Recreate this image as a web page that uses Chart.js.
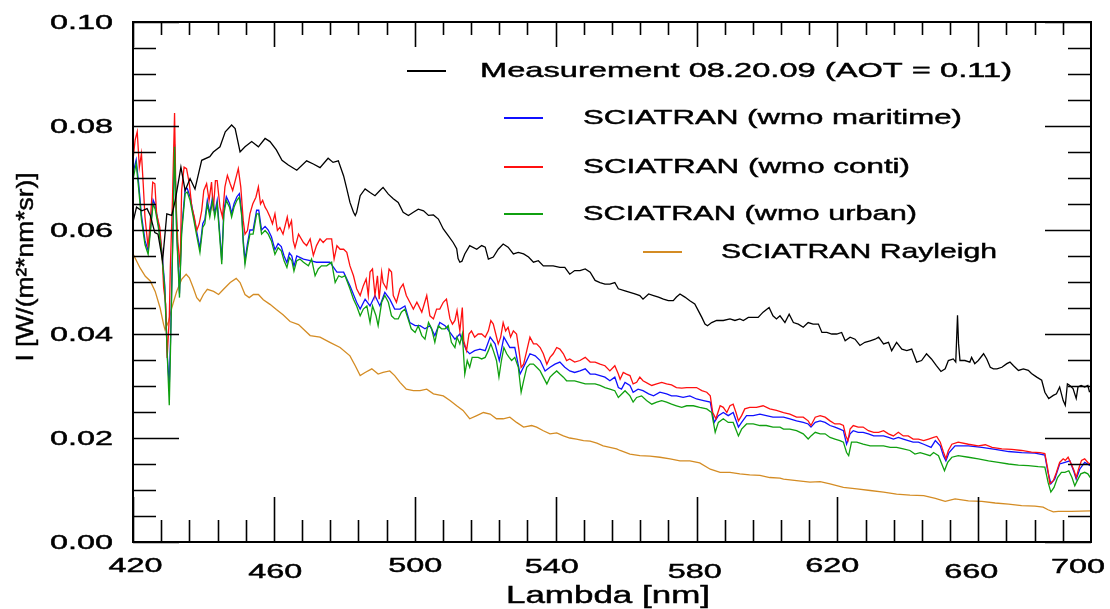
<!DOCTYPE html>
<html>
<head>
<meta charset="utf-8">
<title>Measurement vs SCIATRAN</title>
<script src="https://cdn.jsdelivr.net/npm/chart.js@4.4.1/dist/chart.umd.min.js"></script>
<style>
  html, body { margin: 0; padding: 0; background: #fff; }
  #wrap { width: 1110px; height: 609px; }
</style>
</head>
<body>
<div id="wrap"><canvas id="chart" width="1110" height="609"></canvas></div>
<script>
/* ---------- data (lambda in nm, I in W/(m2*nm*sr)) ---------- */
const measLambda = [420.1,421.0,422.5,424.0,424.9,426.2,427.1,428.4,429.6,431.0,432.0,433.6,434.8,436.2,437.6,438.5,439.5,441.8,442.8,444.7,446.2,448.0,449.0,450.4,451.8,453.7,455.6,457.5,458.9,460.7,462.3,464.1,466.5,469.3,471.2,473.1,475.4,476.8,478.3,479.8,480.7,481.6,482.6,483.1,483.5,484.5,485.9,487.3,488.7,490.1,491.0,492.5,493.9,495.3,496.7,498.2,499.6,501.0,502.5,503.9,505.3,506.7,508.1,509.5,510.9,511.9,512.3,512.8,513.4,514.2,515.6,517.6,519.0,520.0,520.9,522.3,523.7,525.1,526.5,528.0,529.4,530.9,532.3,533.7,535.1,536.5,537.9,539.3,541.2,542.6,544.0,545.4,546.9,548.4,549.8,551.2,552.6,554.0,555.4,556.8,557.8,559.7,561.1,562.5,563.9,564.8,566.4,567.8,569.2,570.6,572.0,573.4,574.3,575.3,576.7,578.1,579.5,580.5,581.5,582.4,583.1,584.3,585.7,587.6,589.5,590.9,592.3,593.3,594.7,596.1,597.5,598.9,600.6,601.7,602.7,603.7,605.1,606.3,607.5,608.9,610.3,611.7,613.1,614.6,615.6,617.0,618.4,619.8,621.2,622.2,623.6,625.0,626.4,627.8,629.3,630.7,631.7,633.1,634.5,635.4,636.8,638.3,639.7,641.1,642.5,643.9,645.3,646.7,648.1,649.4,650.6,651.5,652.9,653.6,654.1,654.4,654.8,656.2,657.6,658.1,659.0,660.0,661.5,662.4,663.4,664.3,665.3,666.7,668.1,669.0,670.0,671.4,672.8,674.2,675.1,676.6,678.0,678.9,680.0,681.3,682.2,683.1,684.1,684.7,685.3,686.0,686.9,687.8,688.3,689.2,690.2,691.1,691.6];
const measI = [0.0618,0.0644,0.0637,0.0641,0.0628,0.0595,0.0592,0.0541,0.0631,0.0628,0.0657,0.0721,0.0676,0.0699,0.0679,0.0705,0.0734,0.0741,0.0750,0.0760,0.0789,0.0802,0.0795,0.0750,0.0760,0.0770,0.0760,0.0776,0.0770,0.0754,0.0734,0.0725,0.0715,0.0733,0.0727,0.0720,0.0738,0.0730,0.0733,0.0704,0.0679,0.0653,0.0634,0.0628,0.0634,0.0666,0.0679,0.0672,0.0666,0.0676,0.0682,0.0669,0.0660,0.0653,0.0634,0.0628,0.0634,0.0640,0.0637,0.0628,0.0629,0.0621,0.0602,0.0589,0.0576,0.0564,0.0545,0.0538,0.0540,0.0554,0.0570,0.0563,0.0570,0.0567,0.0544,0.0548,0.0563,0.0573,0.0567,0.0554,0.0557,0.0554,0.0548,0.0538,0.0541,0.0531,0.0531,0.0531,0.0528,0.0528,0.0515,0.0522,0.0522,0.0525,0.0519,0.0503,0.0499,0.0496,0.0496,0.0499,0.0487,0.0483,0.0480,0.0477,0.0474,0.0467,0.0477,0.0474,0.0471,0.0467,0.0464,0.0464,0.0471,0.0477,0.0471,0.0464,0.0458,0.0445,0.0432,0.0419,0.0416,0.0422,0.0426,0.0426,0.0429,0.0426,0.0429,0.0426,0.0432,0.0432,0.0432,0.0442,0.0451,0.0435,0.0429,0.0435,0.0422,0.0438,0.0422,0.0419,0.0413,0.0422,0.0419,0.0419,0.0403,0.0403,0.0400,0.0400,0.0403,0.0387,0.0394,0.0390,0.0378,0.0384,0.0387,0.0390,0.0394,0.0381,0.0384,0.0368,0.0384,0.0371,0.0368,0.0371,0.0346,0.0349,0.0362,0.0352,0.0339,0.0328,0.0333,0.0349,0.0352,0.0346,0.0436,0.0381,0.0349,0.0349,0.0346,0.0355,0.0343,0.0349,0.0362,0.0352,0.0336,0.0333,0.0333,0.0336,0.0343,0.0346,0.0339,0.0330,0.0333,0.0330,0.0324,0.0317,0.0311,0.0288,0.0276,0.0282,0.0285,0.0298,0.0272,0.0263,0.0304,0.0301,0.0295,0.0276,0.0298,0.0301,0.0298,0.0301,0.0288];

const mariLambda = [420.1,420.9,421.6,422.4,423.4,424.3,425.0,425.7,426.3,427.2,428.1,429.0,429.8,430.3,430.7,431.3,431.8,432.4,433.2,433.8,434.8,435.4,436.2,437.1,438.0,439.0,439.8,440.4,441.1,441.8,442.6,443.2,443.9,444.7,445.2,445.8,446.5,447.4,448.0,448.7,449.5,450.2,450.9,451.3,451.8,452.5,453.2,454.1,455.1,455.7,456.5,457.5,458.4,459.3,460.3,461.2,462.1,462.9,463.7,464.4,465.1,465.7,466.5,468.4,470.3,472.1,474.0,475.9,477.9,479.8,481.6,483.5,484.5,485.9,487.3,488.7,490.1,491.5,492.9,494.3,495.8,497.2,498.6,500.1,501.5,502.9,504.3,505.7,507.1,508.6,510.0,511.4,512.8,513.9,514.7,515.6,517.0,518.5,520.0,521.4,522.8,524.0,525.3,527.0,528.4,529.9,531.3,532.7,534.2,535.6,537.0,538.4,539.8,541.2,542.6,544.0,545.4,546.9,548.4,549.8,551.2,552.6,554.0,555.4,556.8,557.8,558.7,559.7,561.1,562.0,563.4,564.8,566.4,567.8,569.6,571.5,572.9,574.3,576.2,578.1,580.0,582.0,583.9,585.0,586.2,587.6,589.0,590.4,591.9,592.8,594.2,596.1,598.0,599.8,601.7,603.7,604.7,606.5,608.4,610.3,611.7,612.5,613.7,615.1,616.5,617.9,619.3,620.7,621.7,622.6,623.6,624.5,625.9,627.3,628.8,630.3,631.7,633.1,634.5,635.9,637.3,638.7,640.1,641.5,643.0,644.5,646.6,647.8,649.2,650.1,650.8,651.7,653.4,657.2,661.0,664.8,668.6,672.3,676.1,678.9,679.7,680.6,681.7,683.1,684.6,686.0,687.2,687.8,688.8,690.2,691.8];
const mariI = [0.0712,0.0735,0.0690,0.0628,0.0580,0.0560,0.0608,0.0658,0.0648,0.0612,0.0566,0.0495,0.0352,0.0300,0.0400,0.0590,0.0765,0.0600,0.0478,0.0600,0.0678,0.0680,0.0664,0.0632,0.0600,0.0565,0.0612,0.0620,0.0657,0.0632,0.0664,0.0632,0.0657,0.0587,0.0542,0.0638,0.0664,0.0651,0.0632,0.0651,0.0664,0.0670,0.0632,0.0581,0.0542,0.0574,0.0600,0.0600,0.0638,0.0638,0.0600,0.0607,0.0600,0.0587,0.0562,0.0574,0.0568,0.0550,0.0537,0.0556,0.0550,0.0530,0.0550,0.0544,0.0541,0.0538,0.0538,0.0538,0.0519,0.0519,0.0493,0.0461,0.0448,0.0467,0.0454,0.0474,0.0454,0.0480,0.0467,0.0448,0.0448,0.0454,0.0422,0.0416,0.0416,0.0410,0.0416,0.0397,0.0422,0.0416,0.0403,0.0390,0.0400,0.0381,0.0368,0.0362,0.0368,0.0371,0.0368,0.0394,0.0381,0.0349,0.0394,0.0374,0.0374,0.0323,0.0342,0.0362,0.0358,0.0349,0.0329,0.0336,0.0342,0.0346,0.0336,0.0329,0.0326,0.0329,0.0333,0.0323,0.0323,0.0320,0.0317,0.0310,0.0317,0.0297,0.0294,0.0307,0.0301,0.0288,0.0294,0.0291,0.0285,0.0281,0.0288,0.0285,0.0281,0.0281,0.0278,0.0281,0.0275,0.0272,0.0269,0.0230,0.0243,0.0249,0.0243,0.0249,0.0221,0.0230,0.0243,0.0243,0.0246,0.0243,0.0240,0.0240,0.0240,0.0237,0.0233,0.0230,0.0227,0.0221,0.0230,0.0233,0.0230,0.0224,0.0221,0.0217,0.0214,0.0188,0.0208,0.0214,0.0211,0.0211,0.0208,0.0204,0.0204,0.0204,0.0201,0.0198,0.0201,0.0198,0.0195,0.0192,0.0192,0.0188,0.0182,0.0195,0.0185,0.0166,0.0156,0.0172,0.0185,0.0185,0.0182,0.0178,0.0174,0.0172,0.0171,0.0167,0.0137,0.0112,0.0121,0.0150,0.0153,0.0156,0.0134,0.0121,0.0140,0.0153,0.0147];

const contiLambda = [420.1,420.6,421.2,421.8,422.4,422.9,423.4,424.3,425.0,425.6,426.2,426.7,427.6,428.3,428.7,429.3,429.7,430.3,430.6,431.2,431.8,432.2,432.7,433.4,433.8,434.5,435.2,436.0,436.7,437.4,438.1,438.8,439.5,440.1,440.9,441.6,442.3,442.8,443.4,443.9,444.7,445.4,446.1,446.8,447.6,448.3,449.3,449.9,450.6,451.3,451.8,452.5,453.2,454.0,454.9,455.6,456.2,456.8,457.5,458.1,458.9,459.6,460.3,461.0,461.7,462.6,463.8,464.3,465.0,465.5,466.0,467.0,468.4,469.3,470.3,471.2,472.1,473.1,474.0,475.0,476.4,477.1,477.9,478.8,479.8,480.7,481.6,482.6,483.5,484.5,485.4,486.2,486.8,487.3,488.0,488.7,489.4,489.9,490.6,491.0,492.0,492.7,493.4,493.9,494.8,495.8,496.7,497.6,498.6,499.6,500.6,502.0,503.4,504.3,505.3,506.2,507.1,508.1,509.0,510.0,510.7,511.4,512.0,512.8,513.5,513.9,514.7,515.4,516.1,517.0,518.0,519.0,520.0,520.9,521.6,522.3,523.0,523.7,524.4,525.1,525.8,526.5,527.2,528.0,528.9,529.6,530.2,530.9,531.8,532.7,533.7,534.6,535.6,536.5,537.5,538.4,539.3,540.3,541.2,542.2,543.1,544.0,545.4,546.9,548.4,549.8,551.2,552.6,554.0,555.4,556.8,557.8,558.3,559.2,560.1,561.1,562.0,563.0,563.9,564.8,566.4,567.3,568.7,570.1,571.5,572.9,574.3,575.8,577.2,578.6,580.0,581.5,582.9,583.9,584.6,585.5,586.7,587.6,588.6,589.5,590.4,591.2,591.9,592.8,593.7,595.1,597.0,598.9,600.8,602.7,604.7,606.5,608.4,610.3,611.7,612.5,613.7,615.1,616.5,617.9,619.3,620.7,621.7,622.4,623.0,623.6,624.5,625.9,627.3,628.8,630.3,631.7,633.1,634.5,635.9,637.3,638.7,640.1,641.5,643.0,644.5,645.9,647.3,648.2,649.2,650.1,650.8,651.5,652.5,654.3,657.2,660.0,662.0,663.9,666.7,669.5,672.3,675.1,677.5,678.9,679.7,680.3,681.3,682.2,683.1,684.1,684.7,685.5,686.4,687.2,687.8,688.5,689.3,690.2,691.1,691.8];
const contiI = [0.0741,0.0773,0.0789,0.0721,0.0747,0.0689,0.0625,0.0566,0.0625,0.0692,0.0689,0.0631,0.0605,0.0547,0.0489,0.0457,0.0354,0.0431,0.0528,0.0657,0.0825,0.0657,0.0579,0.0528,0.0676,0.0721,0.0718,0.0689,0.0644,0.0625,0.0599,0.0612,0.0637,0.0676,0.0689,0.0657,0.0692,0.0637,0.0695,0.0695,0.0644,0.0625,0.0683,0.0705,0.0689,0.0676,0.0702,0.0718,0.0683,0.0618,0.0592,0.0599,0.0631,0.0650,0.0663,0.0683,0.0650,0.0657,0.0644,0.0637,0.0625,0.0612,0.0631,0.0599,0.0605,0.0592,0.0625,0.0605,0.0618,0.0579,0.0566,0.0592,0.0576,0.0570,0.0583,0.0551,0.0570,0.0583,0.0576,0.0583,0.0583,0.0544,0.0570,0.0563,0.0563,0.0557,0.0531,0.0512,0.0487,0.0474,0.0493,0.0506,0.0474,0.0519,0.0525,0.0474,0.0512,0.0467,0.0519,0.0499,0.0487,0.0525,0.0519,0.0474,0.0461,0.0487,0.0496,0.0474,0.0461,0.0448,0.0461,0.0442,0.0474,0.0435,0.0429,0.0448,0.0448,0.0461,0.0467,0.0429,0.0419,0.0426,0.0445,0.0406,0.0451,0.0387,0.0368,0.0400,0.0406,0.0394,0.0400,0.0400,0.0394,0.0406,0.0426,0.0419,0.0400,0.0381,0.0394,0.0422,0.0406,0.0413,0.0394,0.0406,0.0400,0.0368,0.0336,0.0342,0.0368,0.0394,0.0381,0.0381,0.0374,0.0362,0.0342,0.0355,0.0362,0.0374,0.0371,0.0362,0.0349,0.0352,0.0346,0.0349,0.0355,0.0346,0.0346,0.0342,0.0339,0.0329,0.0339,0.0323,0.0313,0.0326,0.0323,0.0320,0.0304,0.0307,0.0317,0.0310,0.0304,0.0301,0.0304,0.0307,0.0304,0.0302,0.0297,0.0296,0.0297,0.0297,0.0297,0.0291,0.0288,0.0281,0.0249,0.0237,0.0262,0.0259,0.0249,0.0262,0.0265,0.0249,0.0233,0.0243,0.0256,0.0259,0.0259,0.0262,0.0256,0.0253,0.0249,0.0246,0.0240,0.0240,0.0233,0.0224,0.0240,0.0243,0.0240,0.0233,0.0227,0.0227,0.0224,0.0204,0.0195,0.0217,0.0224,0.0221,0.0221,0.0214,0.0211,0.0211,0.0214,0.0208,0.0204,0.0211,0.0204,0.0204,0.0198,0.0198,0.0195,0.0198,0.0201,0.0203,0.0192,0.0173,0.0160,0.0176,0.0188,0.0192,0.0188,0.0185,0.0187,0.0182,0.0179,0.0178,0.0176,0.0173,0.0172,0.0170,0.0141,0.0112,0.0118,0.0134,0.0153,0.0160,0.0157,0.0163,0.0150,0.0137,0.0124,0.0141,0.0157,0.0160,0.0153,0.0150];

const urbanLambda = [420.1,420.9,421.6,422.4,423.4,424.3,425.0,425.7,426.3,427.2,428.1,429.0,429.8,430.3,430.7,431.3,431.8,432.4,433.2,433.8,434.8,435.4,436.2,437.1,438.0,439.0,439.8,440.4,441.1,441.8,442.6,443.2,443.9,444.7,445.2,445.8,446.5,447.4,448.0,448.7,449.5,450.2,450.9,451.3,451.8,452.5,453.2,454.1,455.1,455.7,456.5,457.5,458.4,459.3,460.3,461.2,462.1,462.9,463.7,464.4,465.1,465.7,466.5,467.4,468.4,469.8,470.7,471.7,472.6,473.5,475.0,476.4,477.4,478.4,479.3,480.2,481.6,482.6,483.5,484.5,485.4,486.4,487.3,488.0,489.0,489.6,490.6,491.5,492.5,493.4,494.3,495.3,496.2,497.2,498.1,499.0,500.1,501.0,502.0,502.9,503.9,504.8,505.7,506.7,507.6,508.6,509.5,510.4,511.4,512.0,512.8,513.5,514.2,514.9,515.6,516.3,517.0,518.0,519.0,520.0,520.9,521.6,522.3,523.2,523.9,524.6,525.3,526.1,526.8,527.5,528.4,529.4,530.2,530.9,531.8,532.7,533.7,534.6,535.6,536.5,537.5,538.4,539.3,540.3,541.2,542.2,543.1,544.0,545.4,546.9,548.4,549.8,551.2,552.6,554.0,555.4,556.8,557.8,559.7,561.1,562.0,563.0,564.4,565.8,567.3,568.7,570.1,571.5,572.9,574.3,575.8,577.2,579.1,580.9,582.9,584.3,585.3,586.2,587.6,589.0,590.4,591.9,592.8,594.2,596.1,598.0,599.8,601.7,603.7,604.7,606.5,608.4,610.3,611.7,612.5,613.7,615.1,616.5,617.9,619.3,620.7,621.7,622.6,623.2,624.0,625.5,627.3,629.3,631.2,633.1,635.0,636.8,638.7,640.6,642.0,643.5,644.9,646.3,647.3,648.7,649.8,650.4,651.3,652.5,654.3,657.2,660.0,662.9,665.7,668.6,671.4,674.2,677.0,678.9,679.8,680.6,681.5,682.5,683.6,684.6,685.7,686.6,687.4,688.1,689.1,690.2,691.1,691.8];
const urbanI = [0.0700,0.0728,0.0680,0.0620,0.0572,0.0553,0.0600,0.0650,0.0640,0.0605,0.0559,0.0489,0.0347,0.0263,0.0386,0.0579,0.0760,0.0592,0.0470,0.0592,0.0670,0.0673,0.0657,0.0625,0.0592,0.0557,0.0605,0.0612,0.0650,0.0625,0.0657,0.0625,0.0650,0.0579,0.0534,0.0631,0.0657,0.0644,0.0625,0.0644,0.0657,0.0663,0.0625,0.0573,0.0534,0.0566,0.0592,0.0592,0.0631,0.0631,0.0592,0.0599,0.0592,0.0579,0.0553,0.0566,0.0560,0.0541,0.0528,0.0547,0.0541,0.0521,0.0541,0.0544,0.0538,0.0531,0.0544,0.0512,0.0525,0.0531,0.0531,0.0538,0.0499,0.0512,0.0509,0.0512,0.0487,0.0467,0.0454,0.0435,0.0448,0.0454,0.0422,0.0454,0.0435,0.0416,0.0461,0.0474,0.0461,0.0435,0.0429,0.0429,0.0442,0.0448,0.0429,0.0410,0.0403,0.0416,0.0397,0.0390,0.0422,0.0410,0.0384,0.0416,0.0410,0.0410,0.0416,0.0384,0.0374,0.0394,0.0381,0.0400,0.0323,0.0349,0.0336,0.0355,0.0355,0.0355,0.0352,0.0355,0.0368,0.0381,0.0368,0.0349,0.0317,0.0349,0.0374,0.0362,0.0355,0.0349,0.0355,0.0336,0.0288,0.0310,0.0336,0.0342,0.0342,0.0336,0.0329,0.0317,0.0304,0.0317,0.0323,0.0329,0.0323,0.0317,0.0310,0.0310,0.0310,0.0307,0.0304,0.0304,0.0304,0.0301,0.0297,0.0294,0.0291,0.0278,0.0291,0.0281,0.0269,0.0278,0.0281,0.0272,0.0265,0.0269,0.0272,0.0269,0.0265,0.0262,0.0259,0.0262,0.0262,0.0259,0.0256,0.0249,0.0211,0.0230,0.0237,0.0230,0.0230,0.0204,0.0217,0.0227,0.0227,0.0224,0.0224,0.0221,0.0221,0.0217,0.0217,0.0214,0.0208,0.0198,0.0204,0.0211,0.0208,0.0208,0.0201,0.0198,0.0195,0.0192,0.0172,0.0166,0.0192,0.0192,0.0188,0.0185,0.0185,0.0185,0.0182,0.0182,0.0179,0.0176,0.0169,0.0172,0.0169,0.0166,0.0172,0.0166,0.0147,0.0137,0.0153,0.0163,0.0166,0.0163,0.0160,0.0156,0.0153,0.0150,0.0148,0.0147,0.0145,0.0144,0.0115,0.0096,0.0105,0.0124,0.0134,0.0134,0.0137,0.0124,0.0108,0.0118,0.0131,0.0134,0.0131,0.0124];

const rayLambda = [420.1,422.0,423.5,424.9,426.3,427.7,428.7,429.1,430.1,431.0,432.4,433.8,435.1,436.0,437.1,438.1,439.0,440.0,441.1,442.9,444.3,445.7,447.6,449.3,450.4,451.8,453.0,454.2,455.6,457.0,458.9,460.7,462.6,464.6,467.0,470.3,473.1,475.9,478.8,481.6,483.1,484.5,485.9,487.8,489.6,491.0,492.9,494.3,495.8,497.6,499.6,501.5,503.4,505.3,508.1,510.0,511.9,513.7,515.6,517.6,519.5,521.4,523.2,525.1,527.0,528.9,530.9,533.2,534.6,536.5,538.4,540.3,542.2,544.0,545.9,547.9,549.8,551.7,553.5,555.4,557.3,558.3,561.1,563.9,566.8,569.6,572.5,575.3,578.1,580.9,583.9,586.7,589.5,592.3,595.1,598.0,600.8,603.7,604.7,608.4,612.2,615.1,617.9,621.7,625.5,629.3,633.1,636.8,640.6,644.5,647.8,650.6,653.4,657.2,661.0,664.8,668.6,672.3,676.1,678.4,679.8,681.3,682.7,686.4,691.8];
const rayI = [0.0553,0.0527,0.0511,0.0502,0.0482,0.0450,0.0418,0.0408,0.0424,0.0450,0.0482,0.0505,0.0515,0.0508,0.0489,0.0470,0.0463,0.0476,0.0486,0.0482,0.0476,0.0486,0.0499,0.0507,0.0499,0.0476,0.0470,0.0476,0.0476,0.0466,0.0457,0.0447,0.0437,0.0424,0.0418,0.0397,0.0394,0.0384,0.0374,0.0358,0.0339,0.0320,0.0326,0.0333,0.0323,0.0326,0.0329,0.0320,0.0307,0.0294,0.0291,0.0291,0.0294,0.0285,0.0281,0.0272,0.0262,0.0253,0.0237,0.0243,0.0249,0.0246,0.0237,0.0237,0.0240,0.0230,0.0221,0.0224,0.0221,0.0214,0.0208,0.0210,0.0204,0.0200,0.0198,0.0195,0.0194,0.0190,0.0185,0.0182,0.0179,0.0176,0.0169,0.0166,0.0165,0.0163,0.0160,0.0156,0.0156,0.0152,0.0140,0.0134,0.0134,0.0131,0.0129,0.0128,0.0124,0.0123,0.0121,0.0118,0.0115,0.0116,0.0112,0.0105,0.0102,0.0099,0.0096,0.0092,0.0090,0.0089,0.0084,0.0078,0.0083,0.0079,0.0078,0.0075,0.0073,0.0070,0.0069,0.0067,0.0062,0.0058,0.0059,0.0059,0.0060];

/* ---------- axis ticks ---------- */
const xTickValues = [420, 460, 500, 540, 580, 620, 660, 692];
const xTickLabels = ['420', '460', '500', '540', '580', '620', '660', '700'];
const yTickValues = [0, 0.02, 0.04, 0.06, 0.08, 0.10];
const yTickLabels = ['0.00', '0.02', '0.04', '0.06', '0.08', '0.10'];

// the scanned labels sit a bit off their ticks, keep that look
const xLabelDx = [2.5, 1.3, 0.6, -3.9, -1.8, -5.1, -7, -13];
const xLabelY = [566, 572, 566, 567, 572, 566, 572, 567];

const FONT = "'Liberation Sans', Arial, Helvetica, sans-serif";

const toPoints = (xs, ys) => xs.map((x, i) => ({ x: x, y: ys[i] }));

// text in the original is drawn wide; stretch along the text direction.
// sx > 0 is a plain factor, fitW fits the text to a given length instead
function wideText(ctx, text, x, y, size, sx, align, rot, fitW) {
    ctx.save();
    ctx.translate(x, y);
    if (rot) ctx.rotate(rot);
    ctx.font = size + 'px ' + FONT;
    if (fitW) sx = fitW / ctx.measureText(text).width;
    ctx.scale(sx, 1);
    ctx.textAlign = align;
    ctx.textBaseline = 'middle';
    ctx.fillStyle = '#000';
    ctx.strokeStyle = '#000';
    ctx.lineWidth = 0.45;
    ctx.fillText(text, 0, 0);
    ctx.strokeText(text, 0, 0);
    ctx.restore();
}

/* ---------- frame, inward ticks, labels, legend ---------- */
const idlAxes = {
    id: 'idlAxes',
    afterDatasetsDraw(chart) {
        const ctx = chart.ctx;
        const a = chart.chartArea;
        const xs = chart.scales.x;
        const ys = chart.scales.y;

        ctx.save();
        ctx.strokeStyle = '#000';
        ctx.lineWidth = 1.6;
        ctx.beginPath();
        // y: minor every 0.005, major every 0.02, on both sides
        for (let i = 0; i <= 20; i++) {
            const py = Math.round(ys.getPixelForValue(i * 0.005)) + 0.5;
            const len = i % 4 === 0 ? 46 : 23;
            ctx.moveTo(a.left, py); ctx.lineTo(a.left + len, py);
            ctx.moveTo(a.right, py); ctx.lineTo(a.right - len, py);
        }
        // x: minor every 8 nm, major every 40 nm
        for (let nm = 420; nm < 692; nm += 8) {
            const px = Math.round(xs.getPixelForValue(nm)) + 0.5;
            const major = (nm - 420) % 40 === 0;
            ctx.moveTo(px, a.bottom); ctx.lineTo(px, a.bottom - (major ? 45 : 22));
            ctx.moveTo(px, a.top); ctx.lineTo(px, a.top + (major ? 25 : 13));
        }
        ctx.stroke();

        ctx.lineWidth = 2;
        ctx.strokeRect(a.left, a.top, a.right - a.left, a.bottom - a.top);
        ctx.restore();

        // tick labels
        yTickValues.forEach((v, i) => {
            wideText(ctx, yTickLabels[i], a.left - 20, ys.getPixelForValue(v) + 1, 20, 1.62, 'right');
        });
        xTickValues.forEach((v, i) => {
            wideText(ctx, xTickLabels[i], xs.getPixelForValue(v) + xLabelDx[i], xLabelY[i], 20, 1.62, 'center');
        });

        // axis titles
        wideText(ctx, 'Lambda [nm]', 608, 597, 23, 1.52, 'center');
        wideText(ctx, 'I [W/(m\u00b2*nm*sr)]', 26, 267, 24, 1.1, 'center', -Math.PI / 2);

        // legend, laid out as in the original figure
        const rows = [
            { ds: 0, x0: 407, x1: 446, y: 71, tx: 480, w: 532 },
            { ds: 1, x0: 504, x1: 543, y: 118, tx: 583, w: 379 },
            { ds: 2, x0: 504, x1: 543, y: 167, tx: 583, w: 327 },
            { ds: 3, x0: 504, x1: 543, y: 214, tx: 583, w: 334 },
            { ds: 4, x0: 643, x1: 682, y: 252, tx: 721, w: 276 }
        ];
        rows.forEach(r => {
            const ds = chart.data.datasets[r.ds];
            ctx.save();
            ctx.strokeStyle = ds.borderColor;
            ctx.lineWidth = 2;
            ctx.beginPath();
            ctx.moveTo(r.x0, r.y);
            ctx.lineTo(r.x1, r.y);
            ctx.stroke();
            ctx.restore();
            wideText(ctx, ds.label, r.tx, r.y + 0.5, 21, 0, 'left', 0, r.w);
        });
    }
};

const lineStyle = { pointRadius: 0, borderWidth: 1.3, tension: 0, fill: false };

new Chart(document.getElementById('chart'), {
    type: 'line',
    data: {
        datasets: [
            { label: 'Measurement 08.20.09 (AOT = 0.11)', data: toPoints(measLambda, measI), borderColor: '#000000', order: 0, ...lineStyle },
            { label: 'SCIATRAN (wmo maritime)', data: toPoints(mariLambda, mariI), borderColor: '#1010ff', order: 3, ...lineStyle },
            { label: 'SCIATRAN (wmo conti)', data: toPoints(contiLambda, contiI), borderColor: '#ff1010', order: 2, ...lineStyle },
            { label: 'SCIATRAN (wmo urban)', data: toPoints(urbanLambda, urbanI), borderColor: '#10a010', order: 1, ...lineStyle },
            { label: 'SCIATRAN Rayleigh', data: toPoints(rayLambda, rayI), borderColor: '#d48c24', order: 4, ...lineStyle }
        ]
    },
    options: {
        responsive: false,
        devicePixelRatio: 1,
        animation: false,
        events: [],
        layout: { padding: { left: 133, right: 19, top: 22, bottom: 67 } },
        plugins: { legend: { display: false }, tooltip: { enabled: false } },
        scales: {
            x: { type: 'linear', min: 420, max: 692, display: false },
            y: { type: 'linear', min: 0, max: 0.10, display: false }
        }
    },
    plugins: [idlAxes]
});
</script>
</body>
</html>
